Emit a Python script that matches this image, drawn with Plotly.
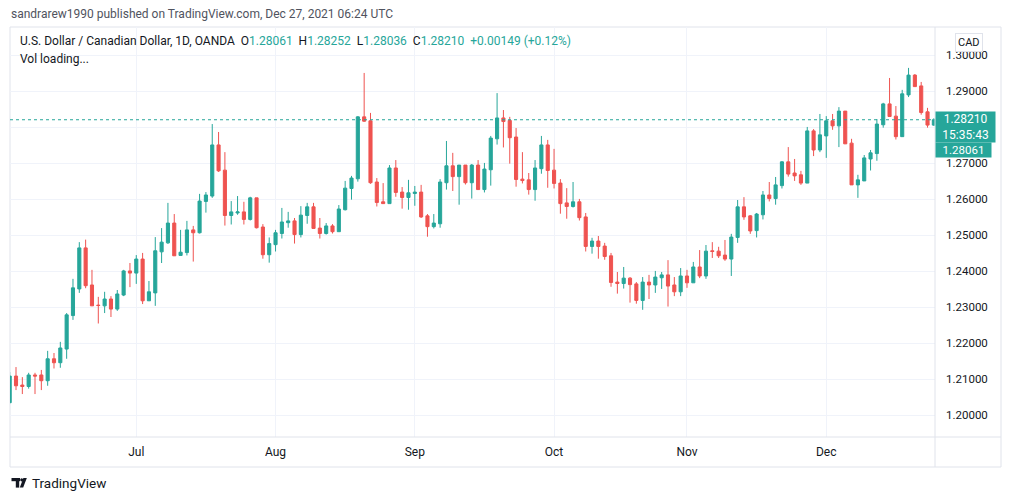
import plotly.graph_objects as go
import pandas as pd

# ---------------- data ----------------
dates = [d for d in pd.bdate_range("2021-06-03", "2021-12-27") if d.strftime("%Y-%m-%d") != "2021-12-24"]

opens = [
    1.2035, 1.2109, 1.2084, 1.2080, 1.2112, 1.2112, 1.2096, 1.2157, 1.2146, 1.2184,
    1.2277, 1.2351, 1.2465, 1.2362, 1.2306, 1.2304, 1.2323, 1.2295, 1.2334, 1.2401,
    1.2395, 1.2434, 1.2318, 1.2340, 1.2454, 1.2479, 1.2534, 1.2444, 1.2452, 1.2515,
    1.2507, 1.2594, 1.2609, 1.2751, 1.2681, 1.2555, 1.2562, 1.2565, 1.2544, 1.2604,
    1.2523, 1.2446, 1.2474, 1.2505, 1.2535, 1.2540, 1.2502, 1.2555, 1.2579, 1.2520,
    1.2505, 1.2526, 1.2510, 1.2571, 1.2630, 1.2657, 1.2829, 1.2818, 1.2648, 1.2593,
    1.2588, 1.2687, 1.2620, 1.2605, 1.2616, 1.2620, 1.2554, 1.2524, 1.2532, 1.2646,
    1.2693, 1.2663, 1.2695, 1.2646, 1.2695, 1.2627, 1.2682, 1.2768, 1.2826, 1.2819,
    1.2773, 1.2656, 1.2654, 1.2627, 1.2685, 1.2751, 1.2681, 1.2645, 1.2590, 1.2580,
    1.2593, 1.2551, 1.2469, 1.2484, 1.2470, 1.2443, 1.2370, 1.2366, 1.2381, 1.2365,
    1.2319, 1.2370, 1.2362, 1.2382, 1.2390, 1.2362, 1.2343, 1.2387, 1.2368, 1.2412,
    1.2387, 1.2457, 1.2456, 1.2445, 1.2434, 1.2494, 1.2579, 1.2554, 1.2513, 1.2557,
    1.2612, 1.2602, 1.2638, 1.2704, 1.2673, 1.2668, 1.2645, 1.2790, 1.2737, 1.2776,
    1.2818, 1.2804, 1.2845, 1.2756, 1.2640, 1.2651, 1.2712, 1.2727, 1.2807, 1.2865,
    1.2831, 1.2774, 1.2890, 1.2945, 1.2915, 1.2843, 1.28061,
]
highs = [
    1.2120, 1.2134, 1.2106, 1.2118, 1.2118, 1.2126, 1.2179, 1.2173, 1.2204, 1.2284,
    1.2379, 1.2481, 1.2488, 1.2404, 1.2329, 1.2343, 1.2331, 1.2348, 1.2404, 1.2423,
    1.2445, 1.2451, 1.2373, 1.2495, 1.2520, 1.2590, 1.2559, 1.2515, 1.2540, 1.2526,
    1.2615, 1.2620, 1.2809, 1.2787, 1.2731, 1.2595, 1.2609, 1.2593, 1.2607, 1.2604,
    1.2531, 1.2494, 1.2515, 1.2576, 1.2565, 1.2548, 1.2581, 1.2590, 1.2590, 1.2548,
    1.2534, 1.2531, 1.2584, 1.2651, 1.2665, 1.2831, 1.2951, 1.2840, 1.2659, 1.2645,
    1.2695, 1.2709, 1.2634, 1.2654, 1.2637, 1.2640, 1.2559, 1.2559, 1.2656, 1.2762,
    1.2729, 1.2695, 1.2695, 1.2698, 1.2709, 1.2701, 1.2776, 1.2895, 1.2848, 1.2829,
    1.2798, 1.2731, 1.2673, 1.2709, 1.2776, 1.2765, 1.2740, 1.2656, 1.2631, 1.2648,
    1.2601, 1.2562, 1.2493, 1.2498, 1.2479, 1.2451, 1.2398, 1.2412, 1.2384, 1.2370,
    1.2384, 1.2390, 1.2401, 1.2398, 1.2431, 1.2384, 1.2409, 1.2404, 1.2426, 1.2459,
    1.2473, 1.2481, 1.2468, 1.2487, 1.2504, 1.2598, 1.2606, 1.2556, 1.2562, 1.2623,
    1.2648, 1.2662, 1.2706, 1.2745, 1.2712, 1.2679, 1.2801, 1.2795, 1.2837, 1.2831,
    1.2837, 1.2856, 1.2845, 1.2768, 1.2668, 1.2723, 1.2737, 1.2823, 1.2868, 1.2937,
    1.2859, 1.2904, 1.2965, 1.2948, 1.2926, 1.2854, 1.28252,
]
lows = [
    1.2033, 1.2070, 1.2059, 1.2074, 1.2059, 1.2070, 1.2082, 1.2130, 1.2132, 1.2157,
    1.2265, 1.2340, 1.2353, 1.2304, 1.2255, 1.2284, 1.2273, 1.2290, 1.2331, 1.2356,
    1.2365, 1.2309, 1.2318, 1.2304, 1.2423, 1.2476, 1.2443, 1.2444, 1.2444, 1.2427,
    1.2505, 1.2563, 1.2604, 1.2676, 1.2527, 1.2530, 1.2557, 1.2530, 1.2541, 1.2519,
    1.2435, 1.2424, 1.2455, 1.2491, 1.2521, 1.2477, 1.2494, 1.2532, 1.2519, 1.2491,
    1.2502, 1.2505, 1.2510, 1.2569, 1.2599, 1.2649, 1.2815, 1.2643, 1.2580, 1.2588,
    1.2588, 1.2607, 1.2574, 1.2571, 1.2582, 1.2548, 1.2496, 1.2519, 1.2521, 1.2627,
    1.2623, 1.2585, 1.2641, 1.2602, 1.2627, 1.2619, 1.2638, 1.2752, 1.2744, 1.2699,
    1.2635, 1.2644, 1.2613, 1.2596, 1.2671, 1.2632, 1.2630, 1.2560, 1.2546, 1.2577,
    1.2541, 1.2455, 1.2449, 1.2435, 1.2432, 1.2357, 1.2338, 1.2352, 1.2313, 1.2310,
    1.2293, 1.2323, 1.2340, 1.2351, 1.2302, 1.2331, 1.2331, 1.2354, 1.2368, 1.2381,
    1.2379, 1.2437, 1.2437, 1.2429, 1.2387, 1.2479, 1.2543, 1.2504, 1.2494, 1.2544,
    1.2594, 1.2585, 1.2630, 1.2663, 1.2651, 1.2640, 1.2645, 1.2720, 1.2731, 1.2715,
    1.2793, 1.2745, 1.2754, 1.2640, 1.2604, 1.2651, 1.2680, 1.2707, 1.2799, 1.2830,
    1.2766, 1.2774, 1.2884, 1.2913, 1.2835, 1.2799, 1.28036,
]
closes = [
    1.2109, 1.2082, 1.2080, 1.2112, 1.2109, 1.2096, 1.2157, 1.2146, 1.2187, 1.2279,
    1.2354, 1.2465, 1.2360, 1.2304, 1.2305, 1.2323, 1.2295, 1.2337, 1.2401, 1.2395,
    1.2434, 1.2318, 1.2343, 1.2457, 1.2481, 1.2534, 1.2443, 1.2453, 1.2515, 1.2507,
    1.2595, 1.2612, 1.2751, 1.2679, 1.2555, 1.2565, 1.2565, 1.2544, 1.2604, 1.2521,
    1.2446, 1.2477, 1.2507, 1.2537, 1.2540, 1.2502, 1.2556, 1.2579, 1.2519, 1.2505,
    1.2526, 1.2510, 1.2573, 1.2631, 1.2659, 1.2829, 1.2817, 1.2646, 1.2591, 1.2588,
    1.2687, 1.2619, 1.2605, 1.2618, 1.2620, 1.2551, 1.2524, 1.2534, 1.2648, 1.2693,
    1.2663, 1.2695, 1.2646, 1.2695, 1.2627, 1.2684, 1.2770, 1.2826, 1.2816, 1.2771,
    1.2655, 1.2652, 1.2627, 1.2687, 1.2751, 1.2680, 1.2644, 1.2588, 1.2580, 1.2593,
    1.2549, 1.2469, 1.2484, 1.2469, 1.2441, 1.2369, 1.2366, 1.2381, 1.2363, 1.2319,
    1.2370, 1.2362, 1.2384, 1.2390, 1.2359, 1.2343, 1.2387, 1.2368, 1.2412, 1.2387,
    1.2456, 1.2455, 1.2443, 1.2434, 1.2495, 1.2579, 1.2551, 1.2512, 1.2559, 1.2612,
    1.2602, 1.2640, 1.2704, 1.2670, 1.2665, 1.2645, 1.2790, 1.2737, 1.2779, 1.2818,
    1.2804, 1.2845, 1.2754, 1.2640, 1.2654, 1.2715, 1.2729, 1.2809, 1.2865, 1.2830,
    1.2774, 1.2893, 1.2945, 1.2913, 1.2841, 1.28061, 1.28210,
]

price_ticks = [1.20, 1.21, 1.22, 1.23, 1.24, 1.25, 1.26, 1.27, 1.28, 1.29, 1.30]
hidden_price_ticks = [1.28]   # covered by the last-price label in the reference
month_labels = ["Jul", "Aug", "Sep", "Oct", "Nov", "Dec"]
countdown = "15:35:43"

# ---------------- derived ----------------
idx = list(range(len(dates)))
month_tickvals = []
for m in month_labels:
    for i, d in enumerate(dates):
        if d.strftime("%b") == m:
            month_tickvals.append(i)
            break
price_ticktext = ["" if t in hidden_price_ticks else f"{t:.5f}" for t in price_ticks]

GREEN = "#26a69a"
RED = "#ef5350"
GRID = "#f0f3fa"
BORDER = "#e0e3eb"
TXT = "#131722"
FONT = "Roboto"

W, H = 1012, 501
PL, PR, PT, PB = 10, 935, 27, 437  # plot area in pixels


def px(xp):
    return (xp - PL) / (PR - PL)


def py(yp):
    return (PB - yp) / (PB - PT)


fig = go.Figure()
fig.add_trace(go.Candlestick(
    x=idx, open=opens, high=highs, low=lows, close=closes,
    increasing=dict(line=dict(color=GREEN, width=1), fillcolor=GREEN),
    decreasing=dict(line=dict(color=RED, width=1), fillcolor=RED),
    whiskerwidth=0, hoverinfo="skip", showlegend=False,
))

last_o, last_h, last_l, last_c = opens[-1], highs[-1], lows[-1], closes[-1]
chg = last_c - closes[-2]
pct = chg / closes[-2] * 100

shapes = []
# price line
shapes.append(dict(type="line", xref="paper", yref="y", x0=0, x1=1, y0=last_c, y1=last_c,
                   line=dict(color=GREEN, width=1, dash="dot"), layer="above"))
# frame
shapes.append(dict(type="rect", xref="paper", yref="paper", x0=px(10), x1=px(1001), y0=py(467), y1=py(27),
                   line=dict(color=BORDER, width=1), layer="below"))
shapes.append(dict(type="line", xref="paper", yref="paper", x0=px(935), x1=px(935), y0=py(467), y1=py(27),
                   line=dict(color=BORDER, width=1)))
shapes.append(dict(type="line", xref="paper", yref="paper", x0=px(10), x1=px(1001), y0=py(437), y1=py(437),
                   line=dict(color=BORDER, width=1)))
# TradingView logo (graphic)
LOGO = "#131722"
shapes.append(dict(type="rect", xref="paper", yref="paper", x0=px(11.5), x1=px(20.0), y0=py(481.2), y1=py(478),
                   line=dict(width=0), fillcolor=LOGO))
shapes.append(dict(type="rect", xref="paper", yref="paper", x0=px(15.8), x1=px(19.2), y0=py(487.6), y1=py(478),
                   line=dict(width=0), fillcolor=LOGO))
shapes.append(dict(type="circle", xref="paper", yref="paper", x0=px(20.2), x1=px(23.2), y0=py(481.4), y1=py(478.2),
                   line=dict(width=0), fillcolor=LOGO))
shapes.append(dict(type="path", xref="paper", yref="paper",
                   path=f"M {px(23.4)},{py(478)} L {px(26.8)},{py(478)} L {px(23.2)},{py(487.6)} L {px(19.8)},{py(487.6)} Z",
                   line=dict(width=0), fillcolor=LOGO))

S = "\u00a0"
legend_txt = (
    f"U.S. Dollar / Canadian Dollar, 1D, OANDA{S}{S}"
    f"O<span style='color:{GREEN}'>{last_o:.5f}</span>{S}{S}"
    f"H<span style='color:{GREEN}'>{last_h:.5f}</span>{S}{S}"
    f"L<span style='color:{GREEN}'>{last_l:.5f}</span>{S}{S}"
    f"C<span style='color:{GREEN}'>{last_c:.5f}</span>{S}{S}"
    f"<span style='color:{GREEN}'>{chg:+.5f}{S}({pct:+.2f}%)</span>"
)

annotations = [
    dict(text="sandrarew1990 published on TradingView.com, Dec 27, 2021 06:24 UTC",
         xref="paper", yref="paper", x=px(9), y=py(14), xanchor="left", yanchor="middle",
         showarrow=False, font=dict(family=FONT, size=12, color="#50535e")),
    dict(text=legend_txt, xref="paper", yref="paper", x=px(18), y=py(41), xanchor="left", yanchor="middle",
         showarrow=False, font=dict(family=FONT, size=12, color=TXT)),
    dict(text="Vol loading...", xref="paper", yref="paper", x=px(18), y=py(59), xanchor="left", yanchor="middle",
         showarrow=False, font=dict(family=FONT, size=12, color=TXT)),
    dict(text="CAD", xref="paper", yref="paper", x=px(968.5), y=py(42), xanchor="center", yanchor="middle",
         showarrow=False, font=dict(family=FONT, size=11, color=TXT), bgcolor="white",
         bordercolor=BORDER, borderwidth=1, borderpad=2),
    dict(text=f"{last_c:.5f}<br>{countdown}", xref="paper", yref="paper", x=px(935), y=py(111),
         xanchor="left", yanchor="top", showarrow=False, align="center", width=57, height=28,
         font=dict(family=FONT, size=12, color="white"), bgcolor=GREEN, borderpad=1),
    dict(text=f"{last_o:.5f}", xref="paper", yref="paper", x=px(935), y=py(142),
         xanchor="left", yanchor="top", showarrow=False, align="center", width=53, height=12,
         font=dict(family=FONT, size=11.5, color="white"), bgcolor=GREEN, borderpad=1),
    dict(text="TradingView", xref="paper", yref="paper", x=px(29.5), y=py(483), xanchor="left", yanchor="middle",
         showarrow=False, font=dict(family=FONT, size=13.5, color=TXT)),
]

fig.update_layout(
    width=W, height=H,
    margin=dict(l=PL, r=W - PR, t=PT, b=H - PB, pad=0),
    paper_bgcolor="white", plot_bgcolor="white",
    font=dict(family=FONT, size=12, color=TXT),
    boxgap=0.3,
    shapes=shapes,
    annotations=annotations,
    hovermode=False,
    xaxis=dict(
        range=[0.05, 146.18], rangeslider=dict(visible=False),
        tickvals=month_tickvals, ticktext=month_labels,
        showgrid=True, gridcolor=GRID, gridwidth=1, zeroline=False, showline=False,
        ticks="", ticklabelstandoff=6, tickfont=dict(family=FONT, size=12, color=TXT),
        fixedrange=True,
    ),
    yaxis=dict(
        side="right", range=[1.19397, 1.30786],
        tickvals=price_ticks, ticktext=price_ticktext,
        showgrid=True, gridcolor=GRID, gridwidth=1, zeroline=False, showline=False,
        ticks="", ticklabelstandoff=10, tickfont=dict(family=FONT, size=11.5, color=TXT),
        fixedrange=True,
    ),
)

fig.write_html("out.html", config=dict(displayModeBar=False, staticPlot=True),
               post_script="document.body.style.margin='0';")
